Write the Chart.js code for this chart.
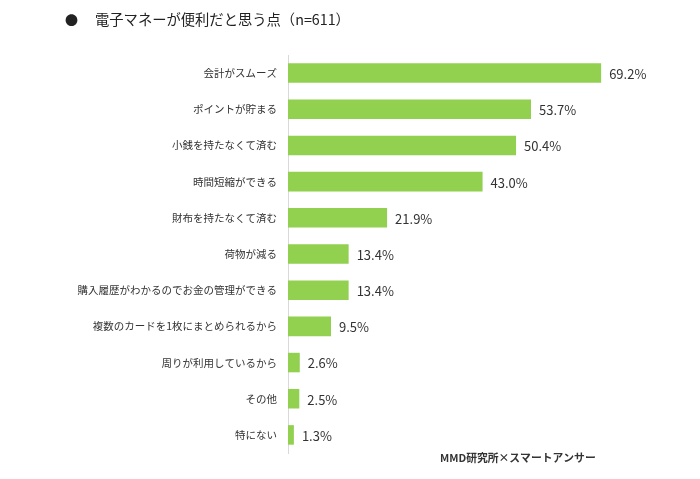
<!DOCTYPE html>
<html>
<head>
<meta charset="utf-8">
<script src="https://cdn.jsdelivr.net/npm/chart.js@4.4.1/dist/chart.umd.min.js"></script>
<style>
html,body{margin:0;padding:0;background:#fff;}
#wrap{width:700px;height:479px;position:relative;}
</style>
</head>
<body>
<div id="wrap"><canvas id="c" width="700" height="479"></canvas></div>
<script>
const categories = [
  "会計がスムーズ",
  "ポイントが貯まる",
  "小銭を持たなくて済む",
  "時間短縮ができる",
  "財布を持たなくて済む",
  "荷物が減る",
  "購入履歴がわかるのでお金の管理ができる",
  "複数のカードを1枚にまとめられるから",
  "周りが利用しているから",
  "その他",
  "特にない"
];
const values = [69.2, 53.7, 50.4, 43.0, 21.9, 13.4, 13.4, 9.5, 2.6, 2.5, 1.3];
const titleText = "電子マネーが便利だと思う点（n=611）";
const sourceText = "MMD研究所×スマートアンサー";

const JP = '"Noto Sans CJK JP", "Noto Sans", sans-serif';

const decor = {
  id: 'decor',
  afterDraw(chart) {
    const ctx = chart.ctx;
    ctx.save();
    // title
    ctx.fillStyle = '#222';
    ctx.textBaseline = 'middle';
    ctx.textAlign = 'left';
    ctx.font = '13px ' + JP;
    ctx.fillText('●', 65, 20);
    ctx.font = '14.3px ' + JP;
    ctx.fillText(titleText, 95, 20);
    // source
    ctx.font = 'bold 10.8px ' + JP;
    ctx.fillStyle = '#333';
    ctx.fillText(sourceText, 440, 458);
    // value labels
    const meta = chart.getDatasetMeta(0);
    ctx.font = '13px ' + JP;
    ctx.fillStyle = '#333';
    meta.data.forEach((bar, i) => {
      ctx.fillText(values[i].toFixed(1) + '%', bar.x + 8, bar.y + 1);
    });
    ctx.restore();
  }
};

new Chart(document.getElementById('c'), {
  type: 'bar',
  data: {
    labels: categories,
    datasets: [{
      data: values,
      backgroundColor: '#92D050',
      borderWidth: 0,
      barPercentage: 0.54,
      categoryPercentage: 1.0
    }]
  },
  options: {
    indexAxis: 'y',
    responsive: false,
    animation: false,
    events: [],
    layout: { padding: { top: 55, bottom: 26, left: 0, right: 50 } },
    plugins: { legend: { display: false }, tooltip: { enabled: false }, title: { display: false } },
    scales: {
      x: { display: false, min: 0, max: 80 },
      y: {
        afterFit(scale) { scale.width = 288; },
        grid: { display: false },
        border: { display: true, color: '#d9d9d9', width: 1 },
        ticks: {
          color: '#333',
          padding: 3,
          font: { family: JP, size: 10.5 },
          autoSkip: false
        }
      }
    }
  },
  plugins: [decor]
});
</script>
</body>
</html>
